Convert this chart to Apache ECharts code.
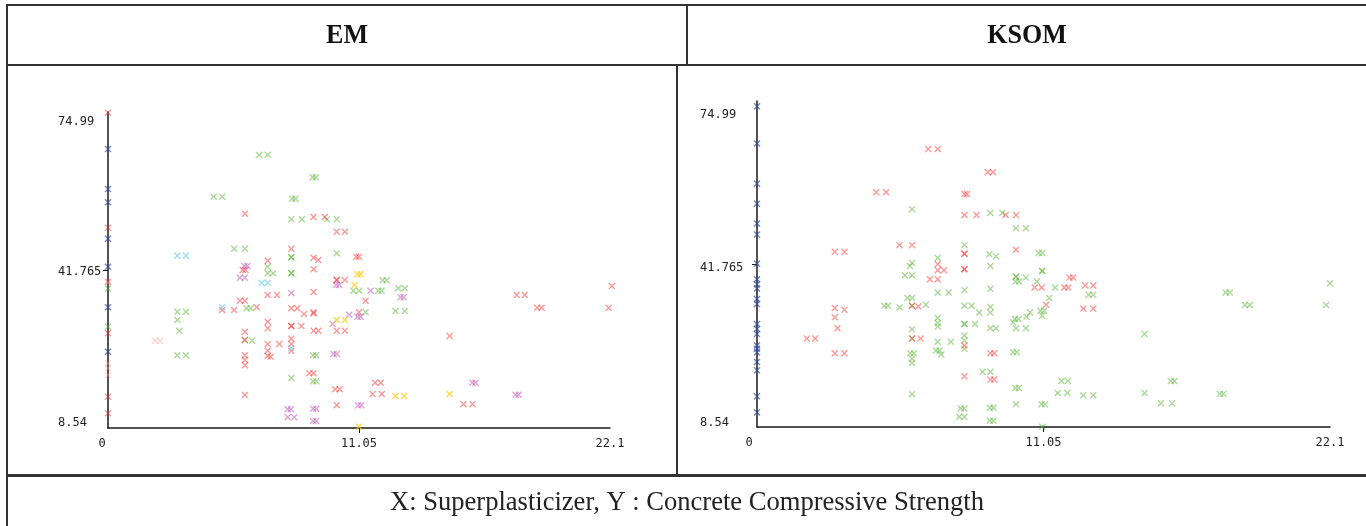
<!DOCTYPE html>
<html>
<head>
<meta charset="utf-8">
<script src="https://cdn.jsdelivr.net/npm/echarts@6/dist/echarts.min.js"></script>
<style>
  html, body { margin: 0; padding: 0; background: #fff; }
  #chart { width: 1366px; height: 526px; }
</style>
</head>
<body>
<div id="chart"></div>
<script>
// axis tick labels
const xTicks = [0, 11.05, 22.1];
const yTicks = [8.54, 41.765, 74.99];

// EM clusters: [superplasticizer, strength]
const emRed = [[6.03,53.61],[9.05,52.91],[9.54,52.91],[10.07,49.82],[10.43,49.82],[8.07,46.25],[9.05,44.35],[9.26,43.87],[10.93,44.56],[11.05,44.56],[7.03,43.72],[5.93,41.77],[6.05,41.77],[9.05,41.92],[10.07,39.66],[10.07,39.66],[10.43,39.66],[7.03,36.51],[7.44,36.51],[9.05,37.14],[5.81,35.31],[6.03,35.31],[11.34,35.31],[5.03,33.36],[5.55,33.36],[6.54,33.92],[8.07,33.71],[8.33,33.71],[8.63,32.51],[9.05,32.87],[9.05,32.6],[11.05,32.87],[7.03,30.9],[7.03,29.51],[8.07,29.99],[8.07,29.99],[8.51,29.99],[9.05,29.0],[9.26,29.0],[10.07,29.0],[10.43,29.0],[6.03,28.79],[7.03,26.21],[7.54,26.21],[8.07,27.32],[8.07,26.21],[8.07,24.8],[6.03,23.83],[6.03,22.84],[6.03,21.73],[7.03,24.8],[7.03,23.68],[7.16,23.53],[8.86,20.04],[9.05,20.04],[11.76,18.07],[12.01,18.07],[11.65,15.69],[12.05,15.69],[10.0,16.68],[10.2,16.68],[6.03,15.48],[10.07,13.31],[15.04,27.89],[22.18,38.4],[17.99,36.51],[18.35,36.51],[18.89,33.84],[19.09,33.84],[22.04,33.84],[15.65,13.52],[16.05,13.52],[6.03,27.05],[0,74.85],[0,50.66],[0,28.46],[0,15.12],[0,11.63],[0,39.31]];
const emGreen = [[6.65,65.95],[7.03,66.01],[9.01,61.26],[9.15,61.26],[4.65,57.18],[5.03,57.18],[8.11,56.76],[8.25,56.76],[8.07,52.43],[8.54,52.43],[9.64,52.43],[10.07,52.43],[5.55,46.25],[6.03,46.25],[8.07,44.44],[8.07,44.44],[10.07,45.28],[7.03,42.46],[7.03,41.07],[7.27,41.07],[8.07,41.07],[8.07,41.07],[12.09,39.6],[12.27,39.6],[10.8,37.41],[11.06,37.41],[11.9,37.41],[12.05,37.41],[12.78,37.92],[13.07,37.92],[3.05,33.0],[3.43,33.0],[3.05,31.25],[3.14,29.0],[6.1,33.71],[6.28,33.71],[11.34,32.87],[12.66,33.15],[13.07,33.15],[6.35,26.9],[6.03,27.05],[3.05,23.83],[3.43,23.83],[9.03,23.83],[9.17,23.83],[8.07,19.06],[9.03,18.36],[9.17,18.36],[0,37.83],[0,29.84]];
const emBlue = [[0,67.21],[0,58.8],[0,56.0],[0,48.35],[0,42.46],[0,33.92],[0,24.59]];
const emCyan = [[3.05,44.78],[3.43,44.78],[6.76,39.1],[7.03,39.1],[5.03,33.92],[8.07,25.3]];
const emPurple = [[6.0,42.61],[6.14,42.61],[5.81,40.15],[6.03,40.15],[8.07,36.93],[10.04,38.61],[10.18,38.61],[11.56,37.41],[12.88,36.03],[13.02,36.03],[10.62,32.37],[9.89,30.41],[10.98,31.95],[11.12,31.95],[9.93,24.1],[10.07,24.1],[7.91,12.47],[8.05,12.47],[7.91,10.79],[8.2,10.79],[9.03,12.6],[9.17,12.6],[9.03,10.01],[9.17,10.01],[11.01,13.31],[11.15,13.31],[16.04,18.07],[16.18,18.07],[17.94,15.54],[18.08,15.54]];
const emYellow = [[10.98,40.86],[11.12,40.86],[10.86,38.61],[10.07,31.25],[10.43,31.25],[12.66,15.27],[13.04,15.27],[11.05,8.81],[15.04,15.69]];
const emPink = [[2.07,26.9],[2.29,26.9],[0,39.1],[0,22.15],[0,21.1],[0,19.69]];

// KSOM clusters
const ksomRed = [[6.6,65.2],[6.97,65.2],[8.9,60.46],[9.1,60.46],[4.6,56.41],[4.98,56.41],[8.0,56.01],[8.1,56.01],[8.0,51.75],[8.47,51.75],[9.59,51.75],[9.99,51.75],[5.5,45.61],[5.98,45.61],[3.0,44.26],[3.37,44.26],[9.99,44.66],[8.0,43.85],[8.0,43.85],[6.97,41.7],[6.97,40.49],[7.21,40.49],[8.0,40.69],[8.0,40.69],[6.67,38.67],[6.97,38.67],[10.71,36.96],[10.98,36.96],[11.85,36.96],[12.0,36.96],[12.05,38.99],[12.2,38.99],[12.66,37.37],[12.97,37.37],[3.0,32.79],[3.37,32.45],[3.0,30.89],[3.1,28.66],[5.98,33.26],[6.22,33.12],[11.15,33.45],[12.59,32.71],[12.97,32.71],[1.92,26.57],[2.24,26.57],[3.0,23.59],[3.37,23.59],[5.98,26.57],[6.31,26.57],[8.0,25.15],[9.0,23.59],[9.15,23.59],[8.0,18.87],[9.0,18.2],[9.15,18.2]];
const ksomGreen = [[5.98,52.91],[9.0,52.16],[9.46,52.16],[9.99,49.06],[10.37,49.06],[8.0,45.61],[8.96,43.73],[9.22,43.32],[10.86,43.99],[11.0,43.99],[6.97,42.98],[5.98,41.97],[5.9,41.36],[9.0,41.36],[5.71,39.48],[5.98,39.48],[9.99,39.19],[9.99,39.19],[9.97,38.18],[10.11,38.18],[10.37,38.99],[11.0,40.35],[11.0,40.35],[10.79,38.18],[11.5,36.96],[6.97,35.95],[7.39,35.95],[8.0,36.44],[9.0,36.7],[11.27,34.82],[12.79,35.48],[12.97,35.48],[5.8,34.82],[5.98,34.82],[4.91,33.26],[5.05,33.26],[5.5,32.91],[6.51,33.46],[5.98,33.26],[8.0,33.26],[8.28,33.26],[8.57,31.9],[9.0,33.01],[9.0,31.9],[10.53,31.9],[10.4,31.03],[10.93,32.24],[11.07,32.24],[11.0,31.23],[9.88,29.87],[9.95,30.56],[10.09,30.56],[9.99,28.66],[10.37,28.66],[6.97,30.76],[6.97,29.75],[6.97,29.0],[8.0,29.55],[8.0,29.55],[8.41,29.55],[9.0,28.66],[9.22,28.66],[5.98,28.45],[5.98,26.57],[8.0,27.18],[8.0,26.17],[8.0,24.48],[6.97,25.9],[7.48,25.9],[5.91,23.59],[6.05,23.59],[5.98,22.46],[5.98,21.57],[6.9,24.14],[7.04,24.14],[7.11,23.33],[9.88,23.8],[10.02,23.8],[8.7,19.82],[9.0,19.82],[11.74,17.92],[11.99,17.92],[9.96,16.5],[10.1,16.5],[11.6,15.49],[11.97,15.49],[12.58,15.02],[12.97,15.02],[5.98,15.23],[9.99,13.2],[10.97,13.2],[11.11,13.2],[7.86,12.33],[8.0,12.33],[7.8,10.63],[8.0,10.63],[8.98,12.45],[9.12,12.45],[8.98,9.82],[9.12,9.82],[11.0,8.6],[22.1,37.85],[18.08,35.95],[18.24,35.95],[18.82,33.4],[19.01,33.4],[21.95,33.4],[14.95,27.52],[15.96,17.92],[16.1,17.92],[14.95,15.49],[15.58,13.4],[16.01,13.4],[17.85,15.29],[17.99,15.29]];
const ksomBlue = [[0,73.92],[0,66.34],[0,58.11],[0,54.06],[0,50.01],[0,47.78],[0,41.83],[0,38.67],[0,37.65],[0,36.76],[0,34.61],[0,33.6],[0,29.55],[0,28.54],[0,27.52],[0,25.15],[0,24.48],[0,23.8],[0,21.77],[0,20.09],[0,14.82],[0,11.52]];

const CROSS = 'path://M0,1.4L1.4,0L5,3.6L8.6,0L10,1.4L6.4,5L10,8.6L8.6,10L5,6.4L1.4,10L0,8.6L3.6,5Z';
const MONO = '"DejaVu Sans Mono", monospace';

const chart = echarts.init(document.getElementById('chart'));

function makeX(gridIndex, zeroShift) {
  return {
    gridIndex,
    type: 'value',
    min: 0,
    max: 22.1,
    splitLine: { show: false },
    axisLine: { lineStyle: { color: '#1a1a1a', width: 1.5 } },
    axisTick: { customValues: [11.05], length: 5, lineStyle: { color: '#1a1a1a' } },
    axisLabel: {
      customValues: xTicks,
      margin: 10,
      formatter: (v) => (v === 0 ? '{z|0}' : '{n|' + v + '}'),
      rich: {
        z: { fontFamily: MONO, fontSize: 12, color: '#222', padding: [0, zeroShift, 0, 0] },
        n: { fontFamily: MONO, fontSize: 12, color: '#222' },
      },
    },
  };
}

function makeY(gridIndex, margin, pads) {
  return {
    gridIndex,
    type: 'value',
    min: 8.54,
    max: 74.99,
    splitLine: { show: false },
    axisLine: { lineStyle: { color: '#1a1a1a', width: 1.5 } },
    axisTick: { customValues: [41.765], length: 5, lineStyle: { color: '#1a1a1a' } },
    axisLabel: {
      customValues: yTicks,
      margin,
      align: 'left',
      formatter: (v) => (v === 74.99 ? '{t|' + v + '}' : v === 8.54 ? '{b|' + v + '}' : '{m|' + v + '}'),
      rich: {
        t: { fontFamily: MONO, fontSize: 12, color: '#222', padding: pads[0] },
        m: { fontFamily: MONO, fontSize: 12, color: '#222', padding: pads[1] },
        b: { fontFamily: MONO, fontSize: 12, color: '#222', padding: pads[2] },
      },
    },
  };
}

function pts(data, color, gi) {
  return {
    type: 'scatter',
    xAxisIndex: gi,
    yAxisIndex: gi,
    data,
    symbol: CROSS,
    symbolSize: 7,
    clip: false,
    silent: true,
    itemStyle: { color },
  };
}

const RED = 'rgba(255,40,40,0.6)';
const GREEN = 'rgba(80,175,40,0.6)';
const BLUE = 'rgba(45,75,165,0.85)';
const CYAN = 'rgba(110,200,228,0.8)';
const PURPLE = 'rgba(190,80,180,0.65)';
const YELLOW = 'rgba(255,200,0,0.85)';
const PINK = 'rgba(255,150,150,0.5)';

// footer text scaled to the width it takes in the picture
const footerText = 'X: Superplasticizer, Y : Concrete Compressive Strength';
const ctx = document.createElement('canvas').getContext('2d');
ctx.font = '28px "Liberation Serif"';
const footerScale = 594 / ctx.measureText(footerText).width;

const border = (x, y, w, h) => ({ type: 'rect', shape: { x, y, width: w, height: h }, style: { fill: '#333' }, silent: true });

chart.setOption({
  animation: false,
  grid: [
    { left: 108, top: 112, width: 502, height: 316 },
    { left: 757, top: 101, width: 573, height: 326 },
  ],
  xAxis: [makeX(0, 12), makeX(1, 16)],
  yAxis: [
    makeY(0, 50, [[20, 0, 0, 0], [4, 0, 0, 0], [0, 0, 10, 0]]),
    makeY(1, 57, [[28, 0, 0, 0], [8, 0, 0, 0], [0, 0, 8, 0]]),
  ],
  series: [
    pts(emGreen, GREEN, 0),
    pts(emRed, RED, 0),
    pts(emPurple, PURPLE, 0),
    pts(emCyan, CYAN, 0),
    pts(emYellow, YELLOW, 0),
    pts(emPink, PINK, 0),
    pts(emBlue, BLUE, 0),
    pts(ksomGreen, GREEN, 1),
    pts(ksomRed, RED, 1),
    pts(ksomBlue, BLUE, 1),
  ],
  graphic: [
    border(6, 4, 1360, 2),
    border(6, 4, 2, 522),
    border(6, 64, 1360, 2),
    border(686, 4, 2, 61),
    border(676, 64, 2, 412),
    border(6, 474, 1360, 3),
    {
      type: 'text', x: 347, y: 36, scaleX: 0.93, silent: true,
      style: { text: 'EM', font: 'bold 28px "Liberation Serif"', fill: '#111', align: 'center', verticalAlign: 'middle', textAlign: 'center', textVerticalAlign: 'middle' },
    },
    {
      type: 'text', x: 1027, y: 36, scaleX: 0.93, silent: true,
      style: { text: 'KSOM', font: 'bold 28px "Liberation Serif"', fill: '#111', align: 'center', verticalAlign: 'middle', textAlign: 'center', textVerticalAlign: 'middle' },
    },
    {
      type: 'text', x: 687, y: 503, scaleX: footerScale, silent: true,
      style: { text: footerText, font: '28px "Liberation Serif"', fill: '#222', align: 'center', verticalAlign: 'middle', textAlign: 'center', textVerticalAlign: 'middle' },
    },
  ],
});
</script>
</body>
</html>
